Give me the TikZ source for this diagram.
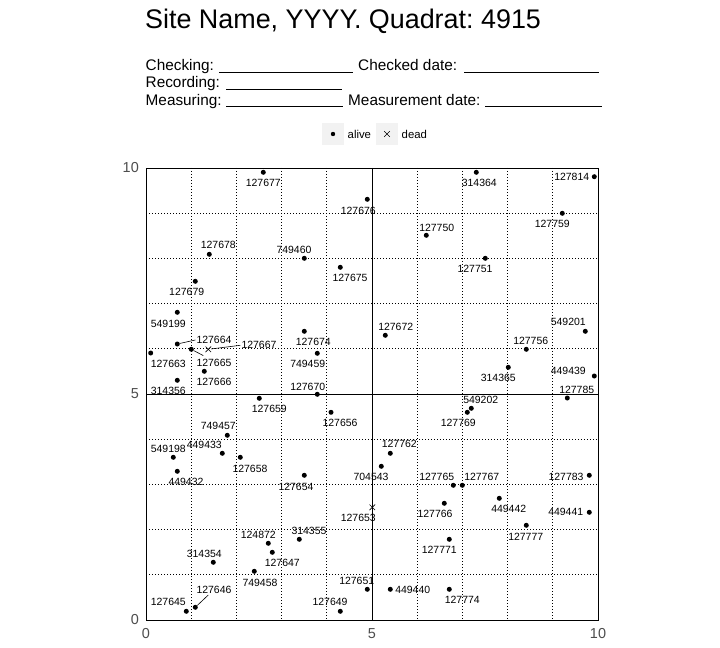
\documentclass[tikz,border=0pt]{standalone}
\usepackage{fontspec}
\setmainfont{Liberation Sans}
\frenchspacing
\usetikzlibrary{shapes.misc}
\definecolor{axisgrey}{HTML}{4D4D4D}
\definecolor{keygrey}{HTML}{F2F2F2}
\newcommand\plantree[5]{%
  \node[alive] (t#1) at (#2,#3) {};
  \node[lab] (l#1) at (#4,#5) {#1};}
\newcommand\deadtree[5]{%
  \node[dead] (t#1) at (#2,#3) {};
  \node[lab] (l#1) at (#4,#5) {#1};}
\begin{document}
\begin{tikzpicture}[x=1bp,y=-1bp,
  alive/.style={circle,fill=black,inner sep=0pt,minimum size=5bp},
  dead/.style={cross out,draw=black,line width=0.6bp,inner sep=0pt,minimum size=5bp},
  lab/.style={font=\fontsize{10.5}{12}\selectfont,inner sep=0pt},
  lead/.style={draw=black,line width=0.6bp},
  gridline/.style={line width=0.9bp,dash pattern=on 0.9bp off 2.1bp},
  axlab/.style={font=\fontsize{14.5}{16}\selectfont,text=axisgrey,inner sep=0pt},
  hdr/.style={font=\fontsize{15.4}{18}\selectfont,inner sep=0pt,anchor=base west},
  blank/.style={line width=1.2bp},
  keybox/.style={fill=keygrey,inner sep=0pt,minimum width=22bp,minimum height=22bp},
  keytext/.style={font=\fontsize{11.4}{13}\selectfont,inner sep=0pt,anchor=base west},
]
\useasboundingbox (0,0) rectangle (720,648);
% title and header
\node[font=\fontsize{27}{30}\selectfont,inner sep=0pt,anchor=base west] (title) at (145,28.3) {Site Name, YYYY. Quadrat: 4915};
\node[hdr] (chk) at (145.5,71) {Checking:};
\draw[blank] (219,72.5) -- (353,72.5);
\node[hdr] (chkd) at (358,71) {Checked date:};
\draw[blank] (464,72.5) -- (599,72.5);
\node[hdr] (rec) at (145.5,88) {Recording:};
\draw[blank] (226,89.2) -- (342,89.2);
\node[hdr] (meas) at (145.5,105.3) {Measuring:};
\draw[blank] (226,106.8) -- (343,106.8);
\node[hdr] (measd) at (348,105.3) {Measurement date:};
\draw[blank] (485,106.8) -- (602,106.8);
% legend
\node[keybox] (keya) at (333,134) {};
\node[alive,minimum size=4.4bp] (keyadot) at (keya.center) {};
\node[keytext] (keyalab) at (347.5,139) {alive};
\node[keybox] (keyd) at (387,134) {};
\node[dead] (keydx) at (keyd.center) {};
\node[keytext] (keydlab) at (401.5,139) {dead};
% grid
\foreach \i in {1,2,3,4,6,7,8,9} {
  \draw[gridline] ({146+45.2*\i},168) -- ({146+45.2*\i},620);
  \draw[gridline] (146,{620-45.2*\i}) -- (598,{620-45.2*\i});
}
\draw[line width=0.8bp] (372,168) -- (372,620);
\draw[line width=0.8bp] (146,394) -- (598,394);
\draw[line width=0.9bp] (146,168) rectangle (598,620);
% axis labels
\node[axlab] (x0) at (146,634) {0};
\node[axlab] (x5) at (372,634) {5};
\node[axlab] (x10) at (598,634) {10};
\node[axlab,anchor=east] (y10) at (139,168) {10};
\node[axlab,anchor=east] (y5) at (139,394) {5};
\node[axlab,anchor=east] (y0) at (139,620) {0};
% trees
\plantree{127677}{263.3}{172.3}{263.3}{183.3}
\plantree{127676}{367.3}{199.3}{358.3}{210.7}
\plantree{127678}{209.3}{254.3}{218.3}{245.3}
\plantree{749460}{304.3}{258.3}{294}{250}
\plantree{127675}{340.3}{267.3}{350}{278.3}
\plantree{127679}{195.3}{281.3}{186.7}{292.3}
\plantree{549199}{177.3}{312.3}{168.3}{324}
\plantree{127664}{177.3}{344}{214}{340}
\plantree{127663}{150.7}{353}{168.3}{364}
\plantree{127665}{191.3}{349.3}{214}{362.7}
\deadtree{127667}{208.3}{349.3}{259}{345.3}
\plantree{127666}{204.3}{371.3}{214}{381.7}
\plantree{314356}{177.3}{380.3}{168.3}{390.7}
\plantree{749459}{317.3}{353.3}{307.7}{364}
\plantree{127674}{304.3}{331.3}{313.3}{342}
\plantree{127670}{317.3}{394.3}{307.7}{386.7}
\plantree{127659}{259.3}{398.3}{269.3}{409}
\plantree{127656}{331}{412.3}{340}{422.7}
\plantree{749457}{227.3}{435.3}{218.3}{425.7}
\plantree{549198}{173.3}{457.3}{168.3}{449}
\plantree{449433}{222.3}{453.3}{204.3}{445}
\plantree{127658}{240.3}{457.3}{250}{469}
\plantree{449432}{177.3}{471.3}{186}{482}
\plantree{127654}{304.3}{475.3}{296}{487}
\plantree{704543}{381.3}{466.3}{371}{477}
\deadtree{127653}{372.3}{507.3}{358.3}{517.7}
\plantree{124872}{268.3}{543.3}{258.3}{535}
\plantree{314355}{299.3}{539.3}{309}{530.7}
\plantree{127647}{272.3}{552.3}{282.3}{562.7}
\plantree{314354}{213.3}{562.3}{204.3}{554}
\plantree{749458}{254.3}{571.3}{260}{582.7}
\plantree{127651}{367.3}{589.3}{356.7}{580.7}
\plantree{127646}{195.3}{607.3}{214}{590}
\plantree{127645}{186.3}{611.3}{168.3}{602.3}
\plantree{127649}{340.3}{611.3}{330}{602.3}
\plantree{314364}{476.3}{172.3}{479.3}{183.3}
\plantree{127814}{594.3}{176.7}{571.7}{177.3}
\plantree{127759}{562.3}{213.3}{552.3}{224}
\plantree{127750}{426.3}{235.3}{436.7}{228}
\plantree{127751}{485.3}{258.3}{475}{268.7}
\plantree{127672}{385.3}{335.3}{395.7}{326.7}
\plantree{549201}{585.3}{331.3}{568.3}{321.7}
\plantree{127756}{526.3}{349.3}{530.7}{341}
\plantree{314365}{508.3}{367.3}{498.3}{378.3}
\plantree{449439}{594.3}{376}{568.3}{370.7}
\plantree{127785}{567.3}{398}{576.7}{390}
\plantree{549202}{471.3}{408.3}{480.7}{400}
\plantree{127769}{467.3}{412.3}{458.3}{423}
\plantree{127762}{390.3}{453.3}{399.3}{444.3}
\plantree{127765}{453.3}{485.3}{436.7}{477}
\plantree{127767}{462.3}{485.3}{481.7}{477}
\plantree{127783}{589.3}{475.3}{566}{477}
\plantree{127766}{444.3}{503.3}{435}{514}
\plantree{449442}{499.3}{498.3}{508.7}{508.7}
\plantree{449441}{589.3}{512.3}{565.7}{512.3}
\plantree{127777}{526.3}{525.3}{525.7}{536.7}
\plantree{127771}{449.3}{539.3}{439.3}{550}
\plantree{449440}{390.3}{589.3}{412.7}{590}
\plantree{127774}{449.3}{589.3}{462.3}{600}
% leader lines
\coordinate (e127665) at (203.3,355.6);
\coordinate (e127646) at (208.3,595);
\draw[lead] (t127664) -- ([xshift=-1bp]l127664.west);
\draw[lead] (t127665) -- (e127665);
\draw[lead] (t127667) -- ([xshift=-1bp]l127667.west);
\draw[lead] (t127646) -- (e127646);
\end{tikzpicture}
\end{document}
